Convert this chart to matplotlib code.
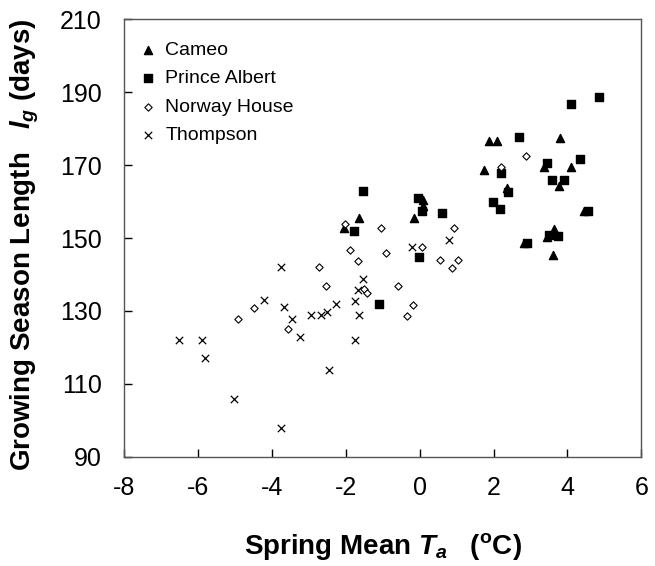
import numpy as np
import matplotlib.pyplot as plt

plt.rcParams['font.family'] = ['Liberation Sans', 'DejaVu Sans']
plt.rcParams['axes.unicode_minus'] = False
plt.rcParams['mathtext.fontset'] = 'custom'
plt.rcParams['mathtext.it'] = 'Liberation Sans:italic:bold'
plt.rcParams['mathtext.rm'] = 'Liberation Sans:bold'

# données : (T_a printemps, longueur de saison)
cameo_x = [-1.64, -2.04, 0.10, 0.08, -0.15, 1.87, 2.09, 3.80, 1.74, 3.36, 4.09,
           3.78, 2.36, 4.45, 3.44, 3.65, 2.83, 3.62]
cameo_y = [155.6, 152.7, 160.3, 158.8, 155.4, 176.6, 176.6, 177.5, 168.7, 169.4, 169.4,
           164.3, 163.8, 157.3, 150.3, 152.5, 148.5, 145.3]

prince_x = [-1.10, -1.55, -1.77, -0.05, 0.05, 0.60, -0.02, 2.68, 4.09, 4.85, 2.21,
            3.45, 4.34, 3.59, 3.90, 2.38, 1.99, 2.18, 4.55, 3.50, 3.75, 2.91]
prince_y = [132.0, 163.0, 152.0, 161.0, 157.3, 156.8, 144.7, 177.8, 186.8, 188.6, 167.8,
            170.7, 171.6, 165.8, 165.8, 162.5, 160.0, 157.9, 157.5, 150.8, 150.6, 148.7]

norway_x = [-4.93, -4.49, -3.58, -2.72, -2.54, -1.89, -1.68, -1.50, -1.44, -2.02, -1.06,
            0.93, 0.06, 0.55, 1.03, 0.87, -0.92, -0.60, -0.17, -0.35, 2.19, 2.88]
norway_y = [127.8, 130.9, 125.0, 142.0, 136.9, 146.7, 143.8, 135.9, 134.8, 153.8, 152.8,
            152.7, 147.6, 143.9, 143.9, 141.8, 145.9, 136.8, 131.6, 128.7, 169.6, 172.5]

thompson_x = [-3.76, -4.22, -3.67, -3.45, -2.95, -2.67, -2.50, -2.27, -1.76, -1.53, -1.68,
              -1.64, -3.24, -1.75, -6.53, -5.90, -5.83, -5.03, -2.46, -3.77, 0.78, -0.22]
thompson_y = [142.1, 133.0, 131.0, 127.8, 128.9, 128.9, 129.8, 131.8, 132.8, 138.8, 135.7,
              128.9, 122.8, 121.9, 121.9, 121.9, 117.0, 105.9, 113.9, 97.9, 149.5, 147.6]

fig = plt.figure(figsize=(6.55, 5.66), dpi=100)
ax = fig.add_axes([0.19, 0.193, 0.789, 0.773])

ax.scatter(cameo_x, cameo_y, marker='^', s=34, c='black', label='Cameo')
ax.scatter(prince_x, prince_y, marker='s', s=26, c='black', label='Prince Albert')
ax.scatter(norway_x, norway_y, marker='D', s=14, facecolors='white',
           edgecolors='black', linewidths=0.8, label='Norway House')
ax.scatter(thompson_x, thompson_y, marker='x', s=28, c='black', linewidths=0.9,
           label='Thompson')

ax.set_xlim(-8, 6)
ax.set_ylim(90, 210)
ax.set_xticks(np.arange(-8, 7, 2))
ax.set_yticks(np.arange(90, 211, 20))
ax.tick_params(direction='in', length=6, width=1, labelsize=18,
               top=False, right=False)
ax.tick_params(axis='y', pad=16.5)
ax.tick_params(axis='x', pad=14)
for s in ax.spines.values():
    s.set_color('#555555')
    s.set_linewidth(1)

ax.set_xlabel(r'Spring Mean $T_a$   ($^{\rm o}$C)', fontsize=20, fontweight='bold')
ax.set_ylabel(r'Growing Season Length   $l_g$ (days)', fontsize=20, fontweight='bold')
ax.xaxis.set_label_coords(0.5, -0.17)
ax.yaxis.set_label_coords(-0.162, 0.484)

ax.legend(loc='upper left', bbox_to_anchor=(-0.015, 0.99), frameon=False,
          fontsize=14, handletextpad=0.2, labelspacing=0.56, handlelength=1.4)

plt.savefig('out.png', dpi=100)
